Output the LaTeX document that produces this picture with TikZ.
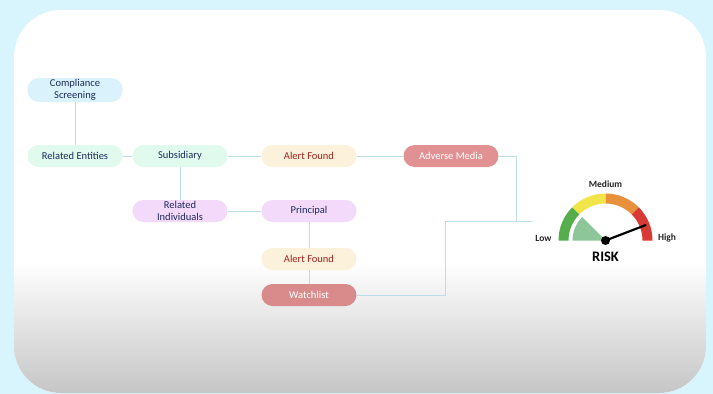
\documentclass[tikz,border=0pt]{standalone}
\usepackage{fontspec}
\setmainfont{Carlito}
\usetikzlibrary{positioning}

\definecolor{bgcyan}{HTML}{D8F5FD}
\definecolor{wirecol}{HTML}{BADDE9}
\definecolor{screenblue}{HTML}{DAF2FB}
\definecolor{entgreen}{HTML}{E0FAEE}
\definecolor{alertcream}{HTML}{FCF1DA}
\definecolor{mediarose}{HTML}{E29192}
\definecolor{watchrose}{HTML}{D98B8B}
\definecolor{indlav}{HTML}{F3DAFA}
\definecolor{navytext}{HTML}{1E2B5C}
\definecolor{alertred}{HTML}{A3231F}
\definecolor{gaugegreen}{HTML}{55AD4C}
\definecolor{gaugeyellow}{HTML}{F2E54A}
\definecolor{gaugeorange}{HTML}{E8913A}
\definecolor{gaugered}{HTML}{D83A35}
\definecolor{wedgegreen}{HTML}{8DC698}

\begin{document}
\begin{tikzpicture}[x=1pt, y=-1pt]
    % --- Dimensions ---
    \def\BoxW{95}       % width of a box
    \def\BoxH{22}       % height of a box
    \def\ROut{47}       % outer radius of the dial
    \def\RIn{37}        % inner radius of the dial

    % --- Styles ---
    \tikzset{
        box/.style={
            rectangle,
            rounded corners=11pt,
            minimum width=\BoxW pt,
            minimum height=\BoxH pt,
            inner sep=1pt,
            align=center,
            text=navytext,
            font=\fontsize{10.5}{12.5}\selectfont
        },
        screen box/.style={box, fill=screenblue},
        entity box/.style={box, fill=entgreen},
        person box/.style={box, fill=indlav},
        alert box/.style={box, fill=alertcream, text=alertred},
        hit box/.style={box, text=white},
        wire/.style={draw=wirecol, line width=1pt},
        dial text/.style={font=\bfseries\fontsize{9.5}{10}\selectfont, text=black!85}
    }

    \useasboundingbox (0,0) rectangle (713,394);

    % =========================================================
    % 1. BACKGROUND AND PANEL
    % =========================================================
    \fill[bgcyan] (0,0) rectangle (713,394);
    \begin{scope}
      \clip[rounded corners=47pt] (14,10) rectangle (706,393);
      \fill[white] (14,10) rectangle (706,393);
      \shade[top color=white, bottom color=gray!45] (14,262) rectangle (706,393);
    \end{scope}

    % =========================================================
    % 2. BOXES
    % =========================================================
    \node[screen box] (scr_box) at (75,90) {Compliance\\Screening};
    \node[entity box] (ent_box) at (75,156) {Related Entities};
    \node[entity box] (sub_box) at (180,156) {Subsidiary};
    \node[alert box]  (alert_top) at (309,156) {Alert Found};
    \node[hit box, fill=mediarose] (media_box) at (451,156) {Adverse Media};
    \node[person box] (ind_box) at (180,211) {Related\\Individuals};
    \node[person box] (prin_box) at (309,211) {Principal};
    \node[alert box]  (alert_low) at (309,259) {Alert Found};
    \node[hit box, fill=watchrose] (watch_box) at (309,295) {Watchlist};

    % =========================================================
    % 3. CONNECTORS
    % =========================================================
    \draw[wire] (scr_box.south) -- (ent_box.north);
    \draw[wire] (ent_box.east) -- (sub_box.west);
    \draw[wire] (sub_box.east) -- (alert_top.west);
    \draw[wire] (alert_top.east) -- (media_box.west);
    \draw[wire] (sub_box.south) -- (ind_box.north);
    \draw[wire] (ind_box.east) -- (prin_box.west);
    \draw[wire] (prin_box.south) -- (alert_low.north);
    \draw[wire] (alert_low.south) -- (watch_box.north);

    % Both hits run into the dial
    \coordinate (risk_in) at (533,221);
    \draw[wire] (media_box.east) -- ++(18,0) |- (risk_in);
    \draw[wire] (watch_box.east) -- ++(89,0) |- (risk_in);

    % =========================================================
    % 4. RISK DIAL
    % =========================================================
    \begin{scope}[shift={(605.5,240.5)}, y=1pt]
      \foreach \c/\a in {gaugegreen/180, gaugeyellow/135, gaugeorange/90, gaugered/45} {
        \fill[\c] (\a:\ROut) arc[start angle=\a, end angle=\a-45, radius=\ROut]
          -- (\a-45:\RIn) arc[start angle=\a-45, end angle=\a, radius=\RIn] -- cycle;
      }
      % Light wedge
      \fill[wedgegreen] (0,0) -- (180:33) arc[start angle=180, end angle=135, radius=33] -- cycle;

      % Needle
      \draw[line width=2.2pt, line cap=round] (0,0) -- (21:43);
      \fill[black] (0,0) circle[radius=4.5];

      % Labels
      \node[dial text] (lbl_med) at (0,56) {Medium};
      \node[dial text] (lbl_low) at (-62,2.5) {Low};
      \node[dial text] (lbl_high) at (61.5,2.5) {High};
      \node[font=\bfseries\fontsize{14.5}{15}\selectfont] (lbl_risk) at (0,-16) {RISK};
    \end{scope}

\end{tikzpicture}
\end{document}
